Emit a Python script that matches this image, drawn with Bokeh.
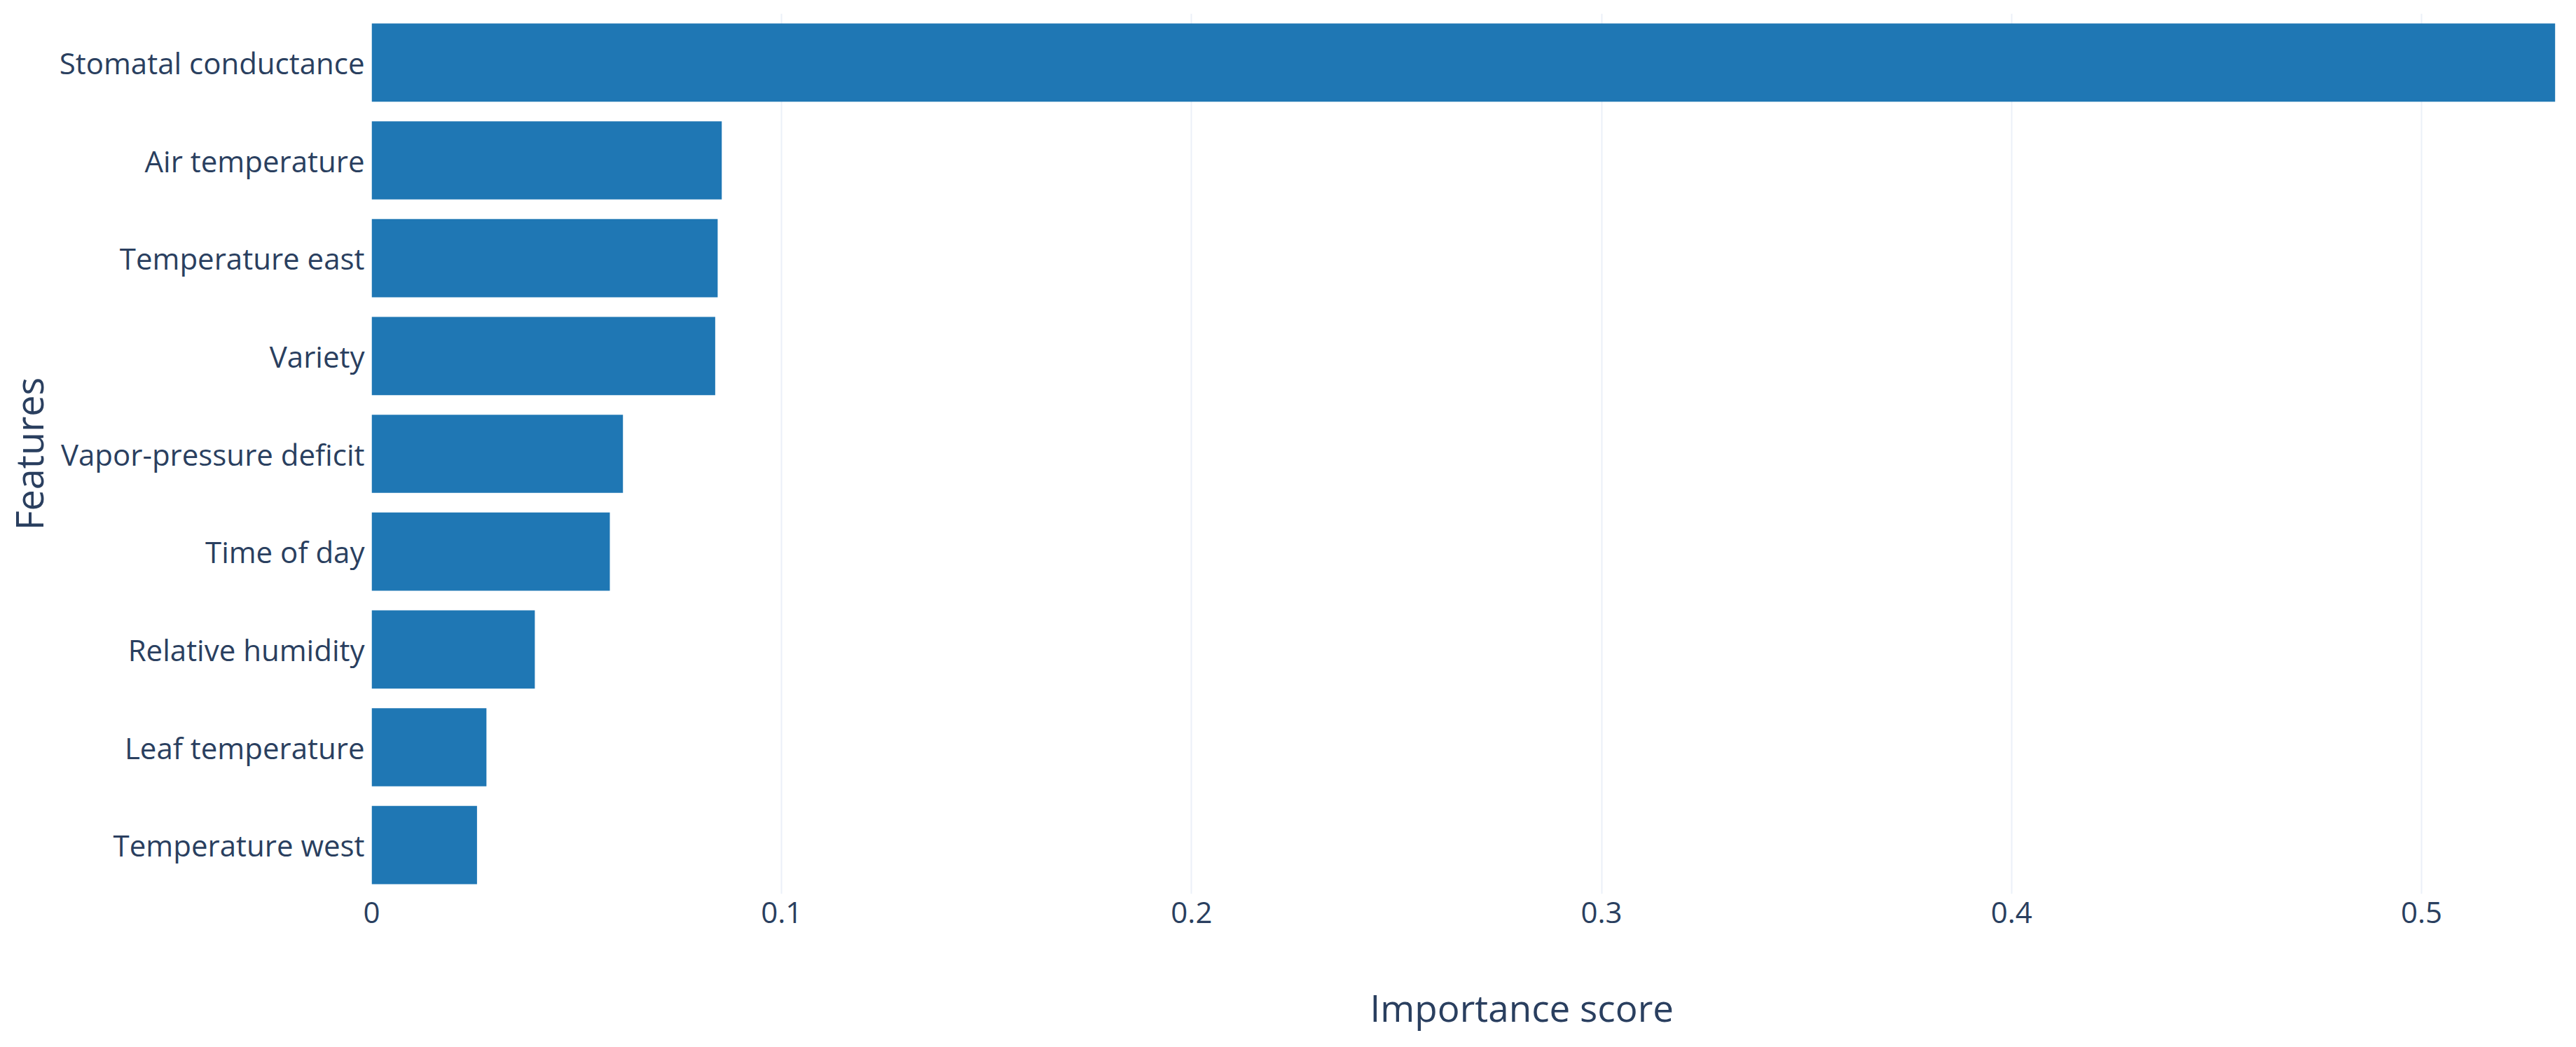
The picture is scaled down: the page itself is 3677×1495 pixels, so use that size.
from bokeh.plotting import figure
from bokeh.models import FactorRange, FixedTicker, Title, ColumnDataSource, Range1d
from bokeh.embed import file_html
from bokeh.resources import INLINE

features = ["Stomatal conductance", "Air temperature", "Temperature east", "Variety",
            "Vapor-pressure deficit", "Time of day", "Relative humidity",
            "Leaf temperature", "Temperature west"]
importance = [0.5326, 0.0854, 0.0844, 0.0838, 0.0613, 0.0581, 0.0398, 0.0280, 0.0257]
x_ticks = [0, 0.1, 0.2, 0.3, 0.4, 0.5]
x_tick_labels = ["0", "0.1", "0.2", "0.3", "0.4", "0.5"]

FONT = "Open Sans"
TXT = "#2a3f5f"

p = figure(frame_width=3136, frame_height=1257, output_backend="svg", toolbar_location=None,
           y_range=FactorRange(factors=list(reversed(features))),
           x_range=Range1d(0, 0.5359),
           min_border_left=525, min_border_right=0, min_border_top=19,
           min_border_bottom=195, background_fill_color="white",
           border_fill_color="white", outline_line_color=None)

src = ColumnDataSource(dict(feature=features, value=importance))
p.hbar(y="feature", right="value", left=0, height=0.8, source=src,
       fill_color="#1f77b4", line_color=None)

for ax in (p.xaxis[0], p.yaxis[0]):
    ax.axis_line_color = None
    ax.major_tick_line_color = None
    ax.minor_tick_line_color = None
    ax.major_label_text_font = FONT
    ax.major_label_text_color = TXT
    ax.major_label_text_font_size = "42px"

p.xaxis[0].ticker = FixedTicker(ticks=x_ticks)
p.xaxis[0].major_label_overrides = {t: l for t, l in zip(x_ticks, x_tick_labels)}
p.xaxis[0].major_label_standoff = 5

p.yaxis[0].major_label_standoff = 4
p.yaxis[0].axis_label = "Features"
p.yaxis[0].axis_label_text_font = FONT
p.yaxis[0].axis_label_text_font_style = "normal"
p.yaxis[0].axis_label_text_color = TXT
p.yaxis[0].axis_label_text_font_size = "54px"
p.yaxis[0].axis_label_standoff = 4

p.xgrid.grid_line_color = "#ebf0f8"
p.xgrid.grid_line_width = 2
p.xgrid.ticker = FixedTicker(ticks=x_ticks)
p.ygrid.grid_line_color = None

p.add_layout(Title(text="Importance score", align="left", offset=1425,
                   text_font=FONT, text_font_style="normal", text_color=TXT,
                   text_font_size="53px", standoff=158), "below")

open("out.html", "w").write(file_html(p, INLINE))
